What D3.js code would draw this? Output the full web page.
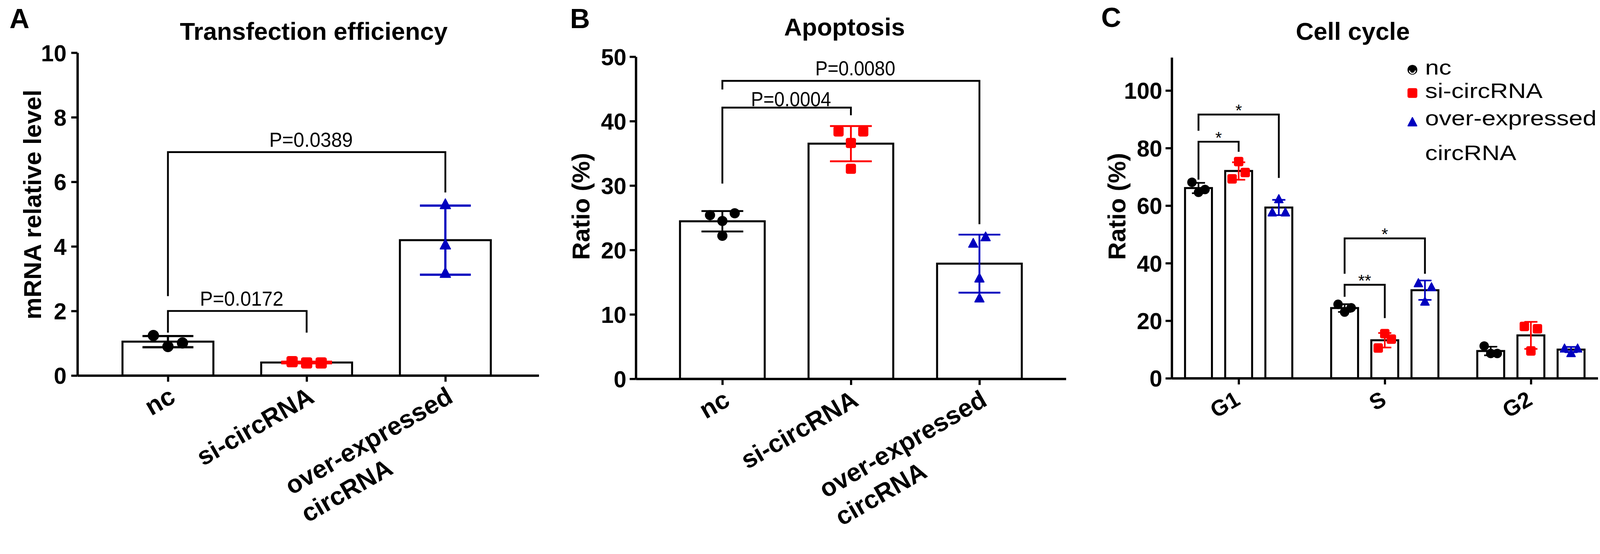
<!DOCTYPE html>
<html>
<head>
<meta charset="utf-8">
<script src="https://cdn.jsdelivr.net/npm/d3@7"></script>
<style>
  html, body { margin: 0; padding: 0; background: #fff; overflow: hidden; }
  #fig { display: block; width: 100vw; height: 100vh; }
  svg text { font-family: "Liberation Sans", Arial, Helvetica, sans-serif; fill: #000; }
</style>
</head>
<body>
<svg id="fig" viewBox="0 0 4401 1419" preserveAspectRatio="xMinYMin meet"></svg>
<script>
// ---------------- data ----------------
var groupsAB = ["nc", "si-circRNA", "over-expressed\ncircRNA"];

// A - transfection efficiency (mRNA relative level)
var transNc   = [1.24, 0.90, 1.01];
var transSi   = [0.43, 0.39, 0.39];
var transOver = [5.32, 4.07, 3.19];
var transTicks = [0, 2, 4, 6, 8, 10];
var transSig = [
    {a: 0, b: 1, top: 2.0,  endA: 1.33, endB: 1.33, label: "P=0.0172"},
    {a: 0, b: 2, top: 6.92, endA: 2.46, endB: 5.67, label: "P=0.0389"}
];

// B - apoptosis ratio (%)
var apopNc   = [25.4, 25.7, 24.5, 22.2];
var apopSi   = [38.4, 38.4, 36.6, 32.6];
var apopOver = [21.1, 22.1, 15.7, 12.6];
var apopTicks = [0, 10, 20, 30, 40, 50];
var apopSig = [
    {a: 0, b: 1, top: 42.1,  endA: 30.3, endB: 40.9, label: "P=0.0004", lift: 4},
    {a: 0, b: 2, top: 46.25, endA: 44.9, endB: 24.0, label: "P=0.0080"}
];

// C - cell cycle ratio (%), one row per phase
var phases = ["G1", "S", "G2"];
var cycleNc   = [[68.1, 64.6, 65.6], [25.7, 23.0, 24.5], [11.2, 8.6, 8.6]];
var cycleSi   = [[75.3, 69.3, 71.5], [15.5, 13.6, 10.5], [18.0, 17.2, 9.5]];
var cycleOver = [[62.4, 57.8, 57.8], [33.2, 31.8, 26.8], [10.5, 10.5, 8.9]];
var cycleTicks = [0, 20, 40, 60, 80, 100];
var cycleSig = [
    {phase: 0, a: 0, b: 1, top: 82.2,  endA: 69.0, endB: 78.7, label: "*"},
    {phase: 0, a: 0, b: 2, top: 91.65, endA: 86.0, endB: 69.6, label: "*"},
    {phase: 1, a: 0, b: 1, top: 32.5,  endA: 28.3, endB: 20.9, label: "**"},
    {phase: 1, a: 0, b: 2, top: 48.6,  endA: 36.3, endB: 36.3, label: "*"}
];
var seriesNames = ["nc", "si-circRNA", "over-expressed\ncircRNA"];

// scatter column of each replicate dot (-1 left, 0 middle, 1 right)
var transCols = [[-1, 0, 1], [-1, 0, 1], [0, 0, 0]];
var apopCols  = [[-1, 1, 0, 0], [-1, 1, 0, 0], [-0.5, 0.5, 0, 0]];
var cycleColsNc   = [[-1, 0, 1], [-1, 0, 1], [-1, 0, 1]];
var cycleColsSi   = [[0, -1, 1], [0, 1, -1], [-1, 1, 0]];
var cycleColsOver = [[0, -1, 1], [-1, 1, 0], [-1, 1, 0]];

// ---------------- styles ----------------
var colors = ["#000000", "#ff0000", "#0000bf"];
var shapes = ["circle", "square", "triangle"];

var svg = d3.select("#fig");

function triPath(x, y, s){
    var h = s * 0.95;
    return "M" + x + "," + (y - h / 2) + "L" + (x + s / 2) + "," + (y + h / 2) +
        "L" + (x - s / 2) + "," + (y + h / 2) + "Z";
}

function drawPoints(g, pts, shape, color, size){
    var sel = g.selectAll(null).data(pts).enter();
    if (shape == "circle"){
        sel.append("circle")
            .attr("cx", function(d){ return d.x; })
            .attr("cy", function(d){ return d.y; })
            .attr("r", size / 2)
            .attr("fill", color);
    } else if (shape == "square"){
        sel.append("rect")
            .attr("x", function(d){ return d.x - size / 2; })
            .attr("y", function(d){ return d.y - size / 2; })
            .attr("width", size).attr("height", size)
            .attr("rx", size * 0.18)
            .attr("fill", color);
    } else {
        sel.append("path")
            .attr("d", function(d){ return triPath(d.x, d.y, size - 3); })
            .attr("fill", color).attr("stroke", color)
            .attr("stroke-width", 3).attr("stroke-linejoin", "round");
    }
}

function drawErr(g, cx, vals, y, cap, color, sw){
    var m = d3.mean(vals), s = d3.deviation(vals);
    var hi = y(m + s), lo = y(m - s);
    g.append("path")
        .attr("d", "M" + (cx - cap / 2) + "," + hi + "H" + (cx + cap / 2) +
            "M" + cx + "," + hi + "V" + lo +
            "M" + (cx - cap / 2) + "," + lo + "H" + (cx + cap / 2))
        .attr("fill", "none").attr("stroke", color).attr("stroke-width", sw);
}

function drawBar(g, cx, vals, y, w){
    var m = d3.mean(vals);
    g.append("rect")
        .attr("x", cx - w / 2).attr("y", y(m))
        .attr("width", w).attr("height", y(0) - y(m))
        .attr("fill", "#fff").attr("stroke", "#000").attr("stroke-width", 5.5);
}

function drawYAxis(g, y, ticks, x0, pad){
    var ax = g.append("g")
        .attr("transform", "translate(" + x0 + ",0)")
        .call(d3.axisLeft(y).tickValues(ticks).tickSize(17).tickSizeOuter(0)
            .tickPadding(pad).tickFormat(d3.format("d")));
    ax.select(".domain").attr("stroke-width", 6.5);
    ax.selectAll(".tick line").attr("stroke-width", 6);
    ax.selectAll(".tick text")
        .attr("font-size", 63).attr("font-weight", "bold")
        .attr("font-family", null).attr("dy", "0.36em");
}

function drawXAxis(g, x, y0){
    var ax = g.append("g")
        .attr("transform", "translate(0," + y0 + ")")
        .call(d3.axisBottom(x).tickSize(17).tickSizeOuter(0).tickFormat(""));
    ax.select(".domain").attr("stroke-width", 6.5);
    ax.selectAll(".tick line").attr("stroke-width", 6);
}

// rotated category label, its baseline end placed just below-right of the tick
function drawXLabel(g, cx, y0, label, lab){
    var lines = label.split("\n");
    var lg = g.append("g")
        .attr("transform", "translate(" + (cx + lab.dx) + "," + (y0 + lab.dy) + ") rotate(-30)");
    var first = lg.append("text")
        .attr("text-anchor", "end")
        .attr("font-size", lab.size).attr("font-weight", "bold")
        .text(lines[0]);
    if (lines.length > 1){
        var len = first.node().getComputedTextLength();
        lg.append("text")
            .attr("x", -len).attr("y", lab.size * 1.26)
            .attr("font-size", lab.size).attr("font-weight", "bold")
            .text(lines[1]);
    }
}

function drawBracket(g, xa, xb, y, s){
    g.append("path")
        .attr("d", "M" + xa + "," + y(s.endA) + "V" + y(s.top) + "H" + xb + "V" + y(s.endB))
        .attr("fill", "none").attr("stroke", "#000").attr("stroke-width", 5)
        .attr("stroke-linejoin", "miter");
}

function drawTitles(g, p){
    g.append("text").attr("x", p.letterX).attr("y", p.letterY)
        .attr("font-size", 76).attr("font-weight", "bold").text(p.letter);
    g.append("text").attr("x", p.titleX).attr("y", p.titleY)
        .attr("text-anchor", "middle")
        .attr("font-size", 68).attr("font-weight", "bold").text(p.title);
    g.append("text")
        .attr("transform", "translate(" + p.ylabX + "," + p.ylabY + ") rotate(-90)")
        .attr("text-anchor", "middle")
        .attr("font-size", 68).attr("font-weight", "bold").text(p.ylab);
}

// ---------------- panels A and B ----------------
var labAB = {dx: 25, dy: 71, size: 70};

function drawSimplePanel(p, series, cols, sig){
    var g = svg.append("g");
    var x = d3.scalePoint().domain(groupsAB).range([p.x0, p.x1]).padding(p.pad).align(p.align);
    var y = d3.scaleLinear().domain(p.domain).range([p.y0, p.yTop]);

    drawTitles(g, p);

    series.forEach(function(vals, i){
        drawBar(g, x(groupsAB[i]), vals, y, p.barW);
    });
    series.forEach(function(vals, i){
        var cx = x(groupsAB[i]);
        var pts = vals.map(function(v, j){ return {x: cx + cols[i][j] * p.unit, y: y(v)}; });
        drawPoints(g, pts, shapes[i], colors[i], p.marker);
        drawErr(g, cx, vals, y, p.cap, colors[i], p.errW);
    });

    drawXAxis(g, x, p.y0);
    drawYAxis(g, y, p.ticks, p.x0, p.tickPad);
    groupsAB.forEach(function(c){ drawXLabel(g, x(c), p.y0, c, labAB); });

    sig.forEach(function(s){
        var xa = x(groupsAB[s.a]), xb = x(groupsAB[s.b]);
        drawBracket(g, xa, xb, y, s);
        var lift = s.lift != null ? s.lift : 15;
        g.append("text")
            .attr("transform", "translate(" + ((xa + xb) / 2 + 12) + "," + (y(s.top) - lift) + ") scale(" + p.pSquash + ",1)")
            .attr("text-anchor", "middle")
            .attr("font-size", 55).text(s.label);
    });
}

drawSimplePanel({
    letter: "A", letterX: 26, letterY: 77,
    title: "Transfection efficiency", titleX: 863, titleY: 110,
    ylab: "mRNA relative level", ylabX: 113, ylabY: 563,
    x0: 213, x1: 1482, pad: 0.663, align: 0.492,
    y0: 1033.5, yTop: 145, domain: [0, 10], ticks: transTicks, tickPad: 13,
    barW: 250, cap: 140, marker: 31, unit: 40, errW: 6, pSquash: 0.97
}, [transNc, transSi, transOver], transCols, transSig);

drawSimplePanel({
    letter: "B", letterX: 1568, letterY: 77,
    title: "Apoptosis", titleX: 2323, titleY: 98,
    ylab: "Ratio (%)", ylabX: 1621, ylabY: 568,
    x0: 1749, x1: 2932, pad: 0.673, align: 0.5,
    y0: 1042.5, yTop: 156, domain: [0, 50], ticks: apopTicks, tickPad: 9,
    barW: 233, cap: 115, marker: 28, unit: 34, errW: 5, pSquash: 0.93
}, [apopNc, apopSi, apopOver], apopCols, apopSig);

// ---------------- panel C ----------------
(function(){
    var p = {
        letter: "C", letterX: 3029, letterY: 74,
        title: "Cell cycle", titleX: 3721, titleY: 110,
        ylab: "Ratio (%)", ylabX: 3096, ylabY: 568
    };
    var g = svg.append("g");
    var x = d3.scalePoint().domain(phases).range([3223, 4395]).padding(0.458);
    var xs = d3.scaleBand().domain(seriesNames).range([-147.5, 147.5]).paddingInner(0.33);
    var y = d3.scaleLinear().domain([0, 111.5]).range([1041, 158]);
    var series = [cycleNc, cycleSi, cycleOver];
    var cols = [cycleColsNc, cycleColsSi, cycleColsOver];
    var bw = xs.bandwidth();

    drawTitles(g, p);

    phases.forEach(function(ph, k){
        series.forEach(function(s, i){
            drawBar(g, x(ph) + xs(seriesNames[i]) + bw / 2, s[k], y, bw);
        });
    });
    phases.forEach(function(ph, k){
        series.forEach(function(s, i){
            var cx = x(ph) + xs(seriesNames[i]) + bw / 2;
            var pts = s[k].map(function(v, j){ return {x: cx + cols[i][k][j] * 18, y: y(v)}; });
            drawPoints(g, pts, shapes[i], colors[i], 26);
            drawErr(g, cx, s[k], y, 36, colors[i], 4.5);
        });
    });

    drawXAxis(g, x, 1041);
    drawYAxis(g, y, cycleTicks, 3223, 9);
    phases.forEach(function(ph){ drawXLabel(g, x(ph), 1041, ph, {dx: 8, dy: 70, size: 61}); });

    cycleSig.forEach(function(s){
        var base = x(phases[s.phase]);
        var xa = base + xs(seriesNames[s.a]) + bw / 2;
        var xb = base + xs(seriesNames[s.b]) + bw / 2;
        drawBracket(g, xa, xb, y, s);
        g.append("text")
            .attr("x", (xa + xb) / 2).attr("y", y(s.top) + 4)
            .attr("text-anchor", "middle")
            .attr("font-size", 46).text(s.label);
    });

    // legend
    var legY = [192, 256, 335];
    var lg = g.append("g");
    seriesNames.forEach(function(n, i){
        drawPoints(lg, [{x: 3885, y: legY[i]}], shapes[i], colors[i], 27);
    });
    lg.append("path")
        .attr("d", "M3877,194 A8,8 0 0 0 3893,194")
        .attr("fill", "none").attr("stroke", "#fff").attr("stroke-width", 3);
    var legBase = [205, 270, 345];
    seriesNames.forEach(function(n, i){
        n.split("\n").forEach(function(line, j){
            lg.append("text")
                .attr("transform", "translate(3920," + (legBase[i] + j * 95) + ") scale(1.18,1)")
                .attr("font-size", 58).text(line);
        });
    });
})();
</script>
</body>
</html>
